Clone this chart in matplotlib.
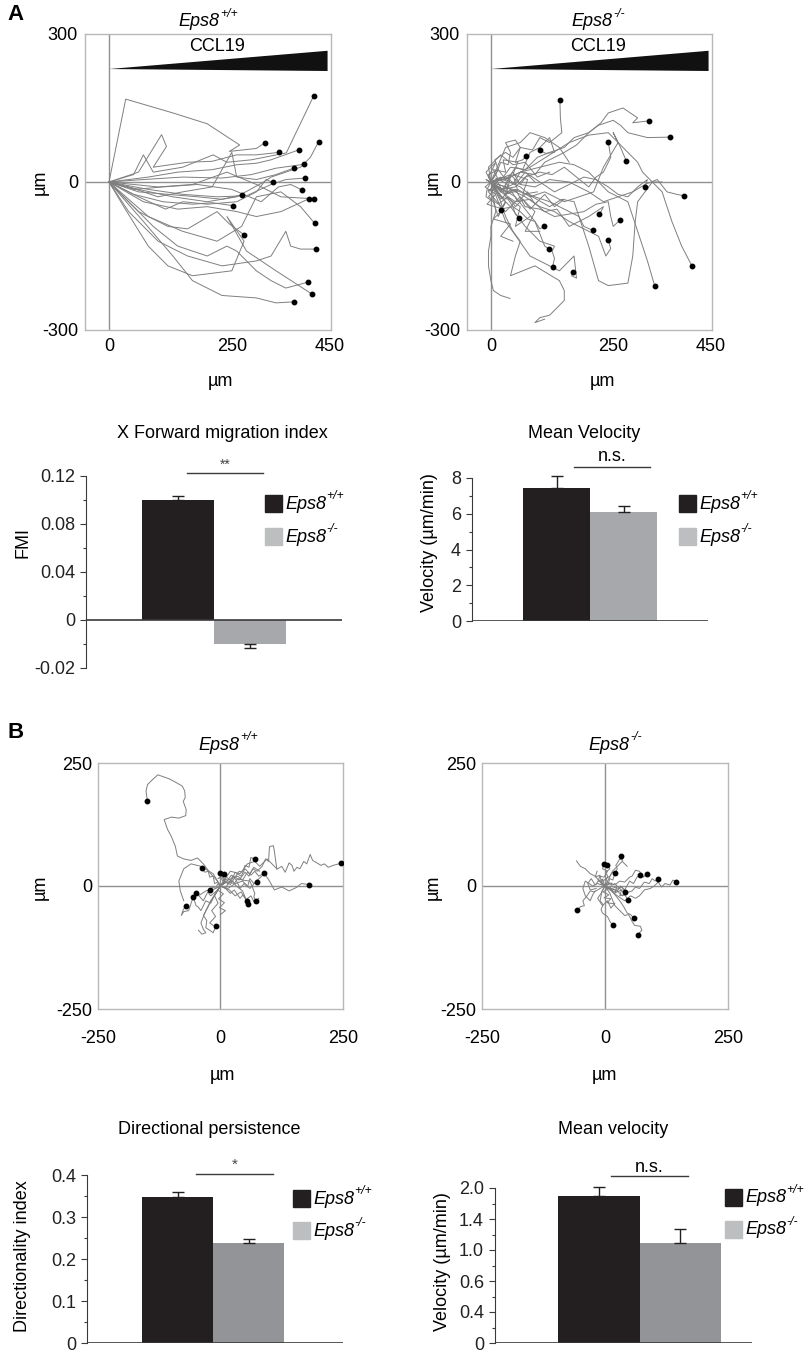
import matplotlib
matplotlib.use('Agg')
import matplotlib.pyplot as plt
from matplotlib.patches import Rectangle
from matplotlib.text import Annotation
from matplotlib.ticker import AutoMinorLocator
import numpy as np

plt.rcParams['font.family'] = ['Liberation Sans', 'DejaVu Sans']
plt.rcParams['axes.unicode_minus'] = False

W, H = 807, 1353

# ---------------- data ----------------
genotype_sup = ['+/+', '-/-']

# bar charts (values, sem)
fmi = [0.100, -0.020]
fmi_err = [0.003, 0.0033]
fmi_ticks = [-0.04, 0, 0.04, 0.08, 0.12]
fmi_ticklabels = ['-0.02', '0', '0.04', '0.08', '0.12']

vel_a = [7.44, 6.10]
vel_a_err = [0.66, 0.33]
vel_a_ticks = [0, 2, 4, 6, 8]

dirindex = [0.348, 0.238]
dirindex_err = [0.012, 0.010]
dir_ticks = [0, 0.1, 0.2, 0.3, 0.4]

vel_b = [1.90, 1.29]
vel_b_err = [0.11, 0.18]
vel_b_ticks = [0, 0.4, 0.8, 1.2, 1.6, 2.0]
vel_b_ticklabels = ['0', '0.4', '0.6', '1.0', '1.4', '2.0']

# CCL19 gradient wedge (um): tip x, tip y, end x, end y bottom, end y top
ccl19_wedge = [0, 229, 445, 225, 266]

# chemotaxis tracks, Eps8+/+ (um)
wt_gradient_tracks = [
    [(0, 0), (34, 168), (130, 140), (200, 118), (266, 75), (245, 62), (300, 68), (318, 80)],
    [(0, 0), (50, 15), (70, 55), (90, 20), (150, 30), (212, 55), (240, 40), (290, 45), (361, 59), (417, 175)],
    [(0, 0), (60, -15), (130, -30), (200, -40), (260, -30), (315, 0), (330, 10), (390, 30), (410, 50), (427, 82)],
    [(0, 0), (60, 20), (107, 96), (117, 72), (90, 30), (160, 40), (210, 42), (260, 55), (300, 55), (346, 60)],
    [(0, 0), (80, 10), (140, 20), (210, 25), (260, 35), (300, 38), (330, 45), (386, 65)],
    [(0, 0), (70, 5), (150, 10), (230, 8), (290, 15), (340, 28), (398, 36)],
    [(0, 0), (40, -10), (100, -30), (150, -20), (210, -10), (250, 60), (260, 10), (300, 5), (340, 15), (376, 28)],
    [(0, 0), (80, -15), (150, -25), (220, -30), (280, -28), (330, -5), (360, 5), (400, 8)],
    [(0, 0), (60, -30), (115, -55), (150, -40), (200, -45), (260, -40), (300, -20), (320, 5), (333, -1)],
    [(0, 0), (50, -15), (110, -10), (180, -5), (250, -15), (310, -40), (345, -10), (370, -5), (393, -16)],
    [(0, 0), (60, -20), (120, -25), (180, -30), (230, -35), (271, -26)],
    [(0, 0), (70, -40), (140, -55), (200, -50), (260, -60), (300, -70), (350, -60), (407, -34)],
    [(0, 0), (100, -10), (170, -5), (240, 20), (300, -5), (350, -30), (417, -34)],
    [(0, 0), (50, -25), (110, -40), (170, -45), (210, -42), (253, -48)],
    [(0, 0), (80, -70), (150, -100), (220, -120), (270, -90), (300, -30), (350, -20), (390, -50), (419, -84)],
    [(0, 0), (60, -60), (120, -90), (160, -95), (220, -60), (245, -85), (275, -107)],
    [(0, 0), (40, -60), (100, -120), (160, -150), (230, -170), (300, -160), (330, -150), (360, -100), (370, -130), (390, -136), (422, -136)],
    [(0, 0), (90, -90), (140, -130), (200, -150), (240, -130), (260, -140), (300, -180), (330, -200), (360, -215), (405, -203)],
    [(0, 0), (30, -50), (80, -130), (120, -170), (170, -190), (250, -180), (275, -120), (240, -70), (280, -140), (340, -180), (413, -227)],
    [(0, 0), (70, -80), (130, -150), (170, -200), (230, -230), (300, -235), (340, -245), (376, -243)],
]

# chemotaxis tracks, Eps8-/- (um)
ko_gradient_tracks = [
    [(0, 0), (15, 25), (8, 45), (30, 60), (45, 50), (60, 70), (85, 65), (100, 90), (120, 80), (145, 100), (142, 130), (141, 167)],
    [(0, 0), (20, -15), (45, -5), (60, 20), (90, 15), (110, 40), (150, 60), (175, 75), (200, 100), (225, 120), (240, 140), (270, 150), (285, 140), (300, 130), (290, 120), (323, 124)],
    [(0, 0), (25, 10), (40, 30), (70, 25), (95, 50), (120, 60), (150, 70), (170, 90), (200, 100), (220, 115), (250, 125), (265, 115), (280, 100), (300, 95), (320, 90), (367, 91)],
    [(0, 0), (20, -15), (50, -10), (70, 10), (100, 20), (125, 15), (150, 30), (175, 10), (200, -10), (215, 10), (230, 20), (245, 50), (240, 81)],
    [(0, 0), (30, -20), (55, -15), (80, -30), (110, -20), (150, -40), (180, -30), (210, -20), (230, 30), (260, 80), (250, 100), (265, 70), (277, 42)],
    [(0, 0), (10, 15), (20, 40), (35, 35), (40, 60), (30, 80), (50, 85), (60, 70), (50, 40), (65, 45), (72, 52)],
    [(0, 0), (12, -10), (25, -20), (35, 5), (50, 30), (65, 25), (80, 60), (100, 70), (120, 90), (125, 75), (130, 60), (112, 58), (100, 64)],
    [(0, 0), (30, 10), (50, -5), (70, 20), (100, 0), (130, -20), (160, -5), (190, 10), (215, 5), (240, -10), (260, -25), (280, -30), (300, -10), (320, 5), (314, -11)],
    [(0, 0), (40, 15), (60, -5), (90, -10), (120, 5), (160, 0), (200, -20), (230, -40), (260, -30), (290, -20), (315, -5), (340, 5), (360, -20), (380, -25), (394, -28)],
    [(0, 0), (-8, -15), (-10, -30), (5, -40), (15, -70), (30, -40), (25, -50), (20, -57)],
    [(0, 0), (20, -20), (50, -40), (80, -35), (110, -60), (135, -55), (160, -90), (180, -80), (200, -70), (230, -50), (225, -60), (221, -64)],
    [(0, 0), (30, -25), (50, -15), (70, -50), (100, -55), (130, -70), (160, -65), (190, -60), (215, -45), (240, -40), (245, -70), (250, -90), (263, -78)],
    [(0, 0), (15, -20), (30, -40), (20, -55), (45, -50), (60, -60), (75, -75), (90, -80), (100, -95), (109, -90)],
    [(0, 0), (25, 5), (60, -10), (85, -30), (120, -50), (145, -35), (170, -40), (180, -70), (190, -90), (208, -98)],
    [(0, 0), (30, -10), (70, -30), (100, -50), (130, -60), (160, -80), (180, -90), (200, -100), (220, -110), (235, -150), (245, -135), (240, -118)],
    [(0, 0), (20, -30), (40, -50), (55, -70), (70, -90), (85, -105), (100, -120), (130, -130), (125, -140), (119, -136)],
    [(0, 0), (25, -15), (50, -30), (70, -55), (90, -80), (100, -105), (110, -130), (125, -140), (130, -155), (126, -172)],
    [(0, 0), (15, -40), (30, -80), (55, -115), (80, -150), (110, -165), (140, -180), (160, -160), (170, -150), (175, -195), (165, -190), (168, -183)],
    [(0, 0), (30, 5), (60, 20), (100, 30), (140, 40), (170, 35), (200, 20), (220, 0), (240, -20), (260, -30), (280, -40), (290, -70), (300, -100), (310, -130), (320, -160), (335, -211)],
    [(0, 0), (40, 10), (80, 30), (120, 55), (160, 80), (200, 95), (240, 100), (260, 80), (280, 60), (300, 40), (310, 20), (330, 0), (350, -20), (360, -50), (370, -80), (380, -105), (390, -130), (411, -170)],
    [(0, 0), (10, -15), (20, -30), (35, -35), (45, -50), (50, -65), (57, -73)],
]
ko_gradient_open = [
    [(0, 0), (5, -30), (10, -60), (0, -90), (0, -110), (-5, -140), (-5, -170), (0, -200), (5, -220), (20, -230), (39, -236)],
    [(0, 0), (20, -40), (30, -70), (45, -100), (60, -120), (50, -150), (40, -190), (65, -180), (90, -170), (115, -185), (140, -200), (150, -220), (150, -240), (135, -255), (120, -270), (100, -275), (90, -285), (110, -278)],
    [(0, 0), (-10, 20), (10, 40), (-5, 10), (20, -20), (40, 10), (30, -30), (60, -50), (50, -90), (80, -70)],
    [(0, 0), (20, 10), (-5, -20), (30, -60), (60, -30), (90, -60), (70, -100), (100, -100)],
    [(0, 0), (15, 35), (30, 70), (60, 80), (80, 100), (110, 90), (140, 70), (160, 40)],
    [(0, 0), (-5, 30), (20, 55), (45, 35), (70, 40), (95, 10), (120, 20)],
    [(0, 0), (10, -10), (-5, -30), (15, -45), (35, -30), (50, -50), (65, -35), (80, -55), (95, -40)],
    [(0, 0), (-5, 15), (15, 25), (30, 5), (45, 20), (60, -5), (75, 15), (90, 0)],
    [(0, 0), (60, -20), (120, -40), (180, -70), (200, -130), (220, -200), (240, -210), (280, -205), (290, -150), (295, -80), (300, -40), (330, 0), (350, 0)],
    [(0, 0), (-12, -10), (10, -25), (-8, -45), (25, -55), (5, -75), (40, -85), (20, -110), (45, -120)],
    [(0, 0), (15, 5), (5, 25), (30, 20), (25, 45), (55, 40), (45, 15), (75, 5), (65, -25), (95, -20)],
    [(0, 0), (-10, 5), (8, -8), (-6, -18), (20, -12), (10, 8), (35, -5), (28, -25), (55, -18), (48, 5)],
    [(0, 0), (20, -35), (40, -15), (55, -40), (75, -20), (90, -45), (110, -25), (130, -50), (150, -35)],
]

# random migration tracks, Eps8+/+ (um)
wt_random_tracks = [
    [(0, 0), (-8, 12), (-20, 25), (-35, 45), (-47, 57), (-60, 52), (-75, 55), (-88, 61), (-92, 80), (-100, 100), (-108, 115), (-115, 135), (-100, 140), (-85, 138), (-71, 143), (-70, 155), (-76, 172), (-72, 180), (-73, 193), (-78, 203), (-90, 210), (-105, 218), (-128, 226), (-140, 215), (-149, 206), (-152, 193), (-149, 172)],
    [(0, 0), (12, 8), (20, 3), (30, 18), (38, 12), (50, 28), (58, 20), (66, 35), (75, 30), (85, 40), (92, 55), (98, 50), (100, 80), (108, 82), (110, 70), (115, 34), (125, 40), (132, 28), (140, 47), (146, 42), (150, 30), (156, 38), (162, 35), (170, 50), (176, 45), (183, 64), (188, 52), (195, 48), (205, 42), (212, 45), (220, 38), (230, 42), (245, 46)],
    [(0, 0), (15, -5), (30, 5), (45, 10), (60, -5), (75, 12), (90, 25), (100, 10), (110, -8), (125, -2), (140, -10), (155, -3), (165, 5), (180, 3)],
    [(0, 0), (8, 6), (5, 15), (15, 12), (22, 22), (30, 18), (38, 30), (45, 28), (50, 42), (58, 38), (62, 58), (71, 54)],
    [(0, 0), (10, -4), (18, 8), (28, 5), (35, 15), (45, 12), (55, 28), (62, 22), (70, 30), (78, 20), (89, 26)],
    [(0, 0), (8, 10), (16, 4), (25, 20), (32, 12), (40, -5), (48, 5), (55, -2), (60, 15), (68, 5), (74, 9)],
    [(0, 0), (-5, 8), (-12, 5), (-15, 20), (-22, 18), (-25, 30), (-32, 28), (-37, 36)],
    [(0, 0), (6, 8), (2, 15), (8, 20), (-3, 22), (0, 27)],
    [(0, 0), (-6, 4), (-10, -5), (-16, -2), (-22, -9)],
    [(0, 0), (-8, -10), (-20, -20), (-26, -12), (-35, -30), (-42, -22), (-49, -15)],
    [(0, 0), (-10, -15), (-20, -35), (-30, -30), (-40, -50), (-46, -42), (-50, -40), (-53, -30), (-56, -23)],
    [(0, 0), (-12, -6), (-30, -10), (-42, -18), (-55, -20), (-60, -35), (-65, -50), (-75, -52), (-80, -60), (-76, -48), (-71, -41)],
    [(0, 0), (-8, -12), (-20, -30), (-25, -42), (-35, -60), (-28, -70), (-30, -85), (-22, -90), (-15, -95), (-12, -88), (-9, -82)],
    [(0, 0), (10, -5), (20, -15), (28, -8), (40, -25), (46, -18), (54, -30)],
    [(0, 0), (12, 8), (25, 10), (32, 0), (45, -10), (50, -22), (57, -36)],
    [(0, 0), (15, 12), (35, 20), (45, 12), (60, 10), (65, -2), (70, -15), (68, -22), (72, -30)],
    [(0, 0), (10, 10), (5, 20), (-5, 15), (8, 25)],
]
wt_random_open = [
    [(0, 0), (-10, -15), (-25, -40), (-32, -55), (-40, -75), (-35, -88), (-30, -95), (-38, -98), (-45, -90)],
    [(0, 0), (-15, 25), (-40, 40), (-60, 45), (-75, 35), (-85, 10), (-82, -10), (-75, -30)],
    [(0, 0), (20, 30), (40, 25), (55, 45), (70, 50), (80, 40), (95, 55), (105, 45), (115, 35)],
    [(0, 0), (-12, -20), (-5, -35), (-18, -50), (-10, -62), (-22, -75), (-15, -80)],
    [(0, 0), (12, 18), (22, 10), (30, 28), (42, 20), (50, 35), (60, 25), (68, 38), (80, 30)],
    [(0, 0), (-6, -8), (6, -16), (-4, -26), (8, -34), (-2, -44), (10, -50), (0, -58)],
    [(0, 0), (18, -8), (30, -20), (42, -12), (52, -28), (62, -20), (70, -35), (78, -25)],
]

# random migration tracks, Eps8-/- (um)
ko_random_tracks = [
    [(0, 0), (5, 8), (2, 15), (10, 20), (15, 28), (20, 25), (25, 35), (22, 42), (30, 55), (36, 52), (33, 60)],
    [(0, 0), (-6, 6), (-10, 20), (-2, 18), (5, 30), (-5, 35), (-3, 44)],
    [(0, 0), (6, 4), (10, 15), (16, 12), (20, 27)],
    [(0, 0), (10, 6), (20, 2), (30, 10), (40, 8), (50, 18), (55, 20), (62, 32), (70, 30), (78, 18), (85, 24)],
    [(0, 0), (12, -5), (25, -10), (32, 0), (40, -8), (50, 10), (58, 5), (65, 18), (72, 22)],
    [(0, 0), (15, -8), (30, -5), (40, -15), (55, -10), (62, -2), (70, -5), (80, 8), (90, 5), (96, 15), (102, 10), (108, 14)],
    [(0, 0), (15, -12), (28, -22), (40, -30), (52, -20), (62, -25), (70, -20), (80, -8), (92, -5), (100, 0), (108, 8), (115, -2), (122, 5), (132, 2), (138, 12), (144, 9)],
    [(0, 0), (-10, -5), (-22, -12), (-30, -10), (-38, -22), (-45, -30), (-42, -40), (-50, -42), (-56, -49)],
    [(0, 0), (-6, -10), (-10, -30), (-4, -38), (-8, -48), (-5, -55), (5, -62), (10, -72), (16, -80)],
    [(0, 0), (10, -15), (20, -40), (28, -48), (40, -60), (48, -58), (55, -72), (60, -80), (72, -82), (75, -90), (70, -95), (67, -100)],
    [(0, 0), (12, -8), (22, -20), (30, -30), (38, -42), (45, -55), (52, -58), (58, -65)],
    [(0, 0), (10, -4), (18, -12), (25, -10), (35, -20), (40, -18), (47, -28)],
    [(0, 0), (8, 6), (15, 2), (20, 5), (28, -4), (34, -2), (40, -12)],
    [(0, 0), (-4, 10), (6, 18), (2, 28), (10, 35), (5, 42)],
]
ko_random_open = [
    [(0, 0), (-10, 8), (-20, 20), (-30, 25), (-40, 35), (-50, 40), (-58, 51)],
    [(0, 0), (-15, 5), (-25, 0), (-40, 10), (-45, -5), (-40, -20), (-30, -30), (-25, -18), (-20, -10)],
    [(0, 0), (8, 15), (15, 30), (25, 40), (35, 50), (40, 45), (45, 40)],
    [(0, 0), (-8, -15), (-15, -25), (-5, -40), (5, -30), (12, -45), (20, -35)],
    [(0, 0), (-12, 12), (-20, 2), (-28, 15), (-35, 5), (-30, -8), (-18, -5)],
    [(0, 0), (6, -6), (-4, -12), (8, -18), (-2, -24), (12, -26), (4, -34), (18, -36)],
    [(0, 0), (-8, 4), (-4, 14), (-14, 10), (-10, 22), (-20, 18), (-16, 30)],
    [(0, 0), (14, 6), (10, -6), (24, -2), (20, -14), (34, -8), (30, -20), (44, -16)],
]

# ---------------- helpers ----------------
TRACK = '#7f7f7f'
FRAME = '#b8b8b8'
BLACK = '#231f20'


def rect(l, t, r, b):
    return [l / W, 1 - b / H, (r - l) / W, (b - t) / H]


def ftext(x, y, s, **kw):
    return fig.text(x / W, 1 - y / H, s, ha=kw.pop('ha', 'center'), va=kw.pop('va', 'center'), **kw)


def gene_label(x, y, sup, ha='center', size=13):
    # italic "Eps8" with a small italic superscript genotype
    if ha == 'center':
        x -= 8
    t = ftext(x, y, 'Eps8', ha=ha, fontsize=size, style='italic')
    a = Annotation(sup, xy=(1, 0.62), xycoords=t, xytext=(0.5, 0), textcoords='offset points',
                   fontsize=size * 0.68, style='italic', ha='left', va='bottom')
    fig.add_artist(a)


def track_axes(r, xlim, ylim, xticks, yticks, xpad, ypad):
    ax = fig.add_axes(r)
    ax.set_xlim(xlim)
    ax.set_ylim(ylim)
    for s in ax.spines.values():
        s.set_color(FRAME)
        s.set_linewidth(1)
    ax.axhline(0, color='#909090', lw=1, zorder=1)
    ax.axvline(0, color='#909090', lw=1, zorder=1)
    ax.set_xticks(xticks)
    ax.set_yticks(yticks)
    ax.tick_params(length=0, labelsize=13)
    ax.tick_params(axis='x', pad=xpad)
    ax.tick_params(axis='y', pad=ypad)
    return ax


def draw_tracks(ax, tracks, dots=True):
    for t in tracks:
        a = np.array(t, dtype=float)
        ax.plot(a[:, 0], a[:, 1], color=TRACK, lw=0.7, zorder=2)
        if dots:
            ax.plot(a[-1, 0], a[-1, 1], 'o', color='k', ms=3.2, zorder=3)


def bar_axes(r, ylim, vals, errs, ticks, ticklabels, left_px, width_px, ko_color, spine_low):
    ax = fig.add_axes(r)
    axw = (r[2] * W) / width_px
    ax.set_xlim(0, axw)
    ax.set_ylim(ylim)
    c0 = (left_px - r[0] * W) / width_px + 0.5
    xs = [c0, c0 + 1]
    cols = [BLACK, ko_color]
    for x, v, e, c in zip(xs, vals, errs, cols):
        ax.bar(x, v, width=1, color=c, zorder=2)
        yerr = [[0], [e]] if v >= 0 else [[e], [0]]
        eb = ax.errorbar(x, v, yerr=yerr, color=BLACK, capsize=4.5, lw=1, capthick=1, zorder=3)
        for art in eb.lines[1] + eb.lines[2]:
            art.set_clip_on(False)
    ax.axhline(0, color='#3a3a3a', lw=1.2, zorder=4)
    for s in ['top', 'right', 'bottom']:
        ax.spines[s].set_visible(False)
    ax.spines['left'].set_color('#3a3a3a')
    ax.spines['left'].set_bounds(spine_low, ylim[1])
    ax.set_xticks([])
    ax.set_yticks(ticks)
    ax.set_yticklabels(ticklabels)
    ax.yaxis.set_minor_locator(AutoMinorLocator(2))
    ax.tick_params(axis='y', which='major', length=4, width=0.8, labelsize=13, pad=4, colors='#3a3a3a',
                   labelcolor='#222222')
    ax.tick_params(axis='y', which='minor', length=2.5, width=0.8, colors='#3a3a3a')
    return ax, xs


def legend_px(x, y_top, y_bot):
    # squares 17 px, text right of them
    fig.add_artist(Rectangle((x / W, 1 - (y_top + 17) / H), 17 / W, 17 / H,
                             transform=fig.transFigure, color=BLACK))
    fig.add_artist(Rectangle((x / W, 1 - (y_bot + 17) / H), 17 / W, 17 / H,
                             transform=fig.transFigure, color='#bcbec0'))
    gene_label(x + 20, y_top + 9, genotype_sup[0], ha='left')
    gene_label(x + 20, y_bot + 9, genotype_sup[1], ha='left')


fig = plt.figure(figsize=(W / 100, H / 100), dpi=100)

# ---------------- panel A tracks ----------------
xl_a = (-48.9, 452)
for r, tracks, opens, sup, title_x, ylab_x, xlab_x in [
        (rect(85, 34, 331, 330), wt_gradient_tracks, [], genotype_sup[0], 207, 40, 220),
        (rect(467, 34, 712, 330), ko_gradient_tracks, ko_gradient_open, genotype_sup[1], 600, 433, 602)]:
    ax = track_axes(r, xl_a, (-300, 300), [0, 250, 450], [-300, 0, 300], 6, 5)
    draw_tracks(ax, tracks)
    draw_tracks(ax, opens, dots=False)
    tx, ty, ex, eyb, eyt = ccl19_wedge
    ax.fill([tx, ex, ex], [ty, eyb, eyt], color='#111111', lw=0, zorder=4)
    ax.text(220, 274, 'CCL19', ha='center', va='center', fontsize=13, zorder=5)
    gene_label(title_x, 22, sup)
    ftext(ylab_x, 182, 'µm', rotation=90, fontsize=13)
    ftext(xlab_x, 381, 'µm', fontsize=13)

ftext(16, 14, 'A', fontsize=16, fontweight='bold')
ftext(16, 732, 'B', fontsize=16, fontweight='bold')

# ---------------- panel A bars ----------------
ax, xs = bar_axes(rect(86, 476, 342, 668), (-0.04, 0.12), fmi, fmi_err, fmi_ticks, fmi_ticklabels,
                  142, 72, '#a6a8ab', -0.04)
ax.plot([xs[0] + 0.13, xs[1] + 0.18], [0.1225, 0.1225], color='#3a3a3a', lw=1, clip_on=False)
ax.text((xs[0] + xs[1]) / 2 + 0.15, 0.129, '**', ha='center', va='center', fontsize=10, color='#444444')
ftext(222, 433, 'X Forward migration index', fontsize=13)
ftext(23, 543, 'FMI', rotation=90, fontsize=13)
legend_px(265, 495, 528)

ax, xs = bar_axes(rect(472, 478, 708, 621), (0, 8), vel_a, vel_a_err, vel_a_ticks, [str(t) for t in vel_a_ticks],
                  523, 67, '#a6a8ab', 0)
ax.plot([xs[0] + 0.26, xs[1] + 0.4], [8.62, 8.62], color='#3a3a3a', lw=1, clip_on=False)
ax.text((xs[0] + xs[1]) / 2 + 0.33, 9.2, 'n.s.', ha='center', va='center', fontsize=13)
ftext(584, 433, 'Mean Velocity', fontsize=13)
ftext(429, 543, 'Velocity (µm/min)', rotation=90, fontsize=13)
legend_px(679, 495, 528)

# ---------------- panel B tracks ----------------
for r, tracks, opens, sup, title_x, ylab_x, xlab_x in [
        (rect(98, 763, 343, 1009), wt_random_tracks, wt_random_open, genotype_sup[0], 227, 40, 222),
        (rect(482, 763, 728, 1009), ko_random_tracks, ko_random_open, genotype_sup[1], 617, 433, 604)]:
    ax = track_axes(r, (-250, 250), (-250, 250), [-250, 0, 250], [-250, 0, 250], 15, 4)
    draw_tracks(ax, tracks)
    draw_tracks(ax, opens, dots=False)
    gene_label(title_x, 745, sup)
    ftext(ylab_x, 887, 'µm', rotation=90, fontsize=13)
    ftext(xlab_x, 1075, 'µm', fontsize=13)

# ---------------- panel B bars ----------------
ax, xs = bar_axes(rect(87, 1175, 343, 1343), (0, 0.4), dirindex, dirindex_err, dir_ticks,
                  [f'{t:g}' for t in dir_ticks], 142, 71, '#929497', 0)
ax.plot([xs[0] + 0.26, xs[1] + 0.35], [0.402, 0.402], color='#3a3a3a', lw=1, clip_on=False)
ax.text((xs[0] + xs[1]) / 2 + 0.3, 0.424, '*', ha='center', va='center', fontsize=11, color='#444444')
ftext(209, 1129, 'Directional persistence', fontsize=13)
ftext(23, 1256, 'Directionality index', rotation=90, fontsize=13)
legend_px(293, 1190, 1222)

ax, xs = bar_axes(rect(495, 1188, 752, 1343), (0, 2.0), vel_b, vel_b_err, vel_b_ticks, vel_b_ticklabels,
                  558, 81.5, '#929497', 0)
ax.plot([xs[0] + 0.15, xs[1] + 0.1], [2.15, 2.15], color='#3a3a3a', lw=1, clip_on=False)
ax.text((xs[0] + xs[1]) / 2 + 0.12, 2.27, 'n.s.', ha='center', va='center', fontsize=13)
ftext(613, 1129, 'Mean velocity', fontsize=13)
ftext(443, 1262, 'Velocity (µm/min)', rotation=90, fontsize=13)
legend_px(725, 1189, 1221)

fig.savefig('out.png', dpi=100)
